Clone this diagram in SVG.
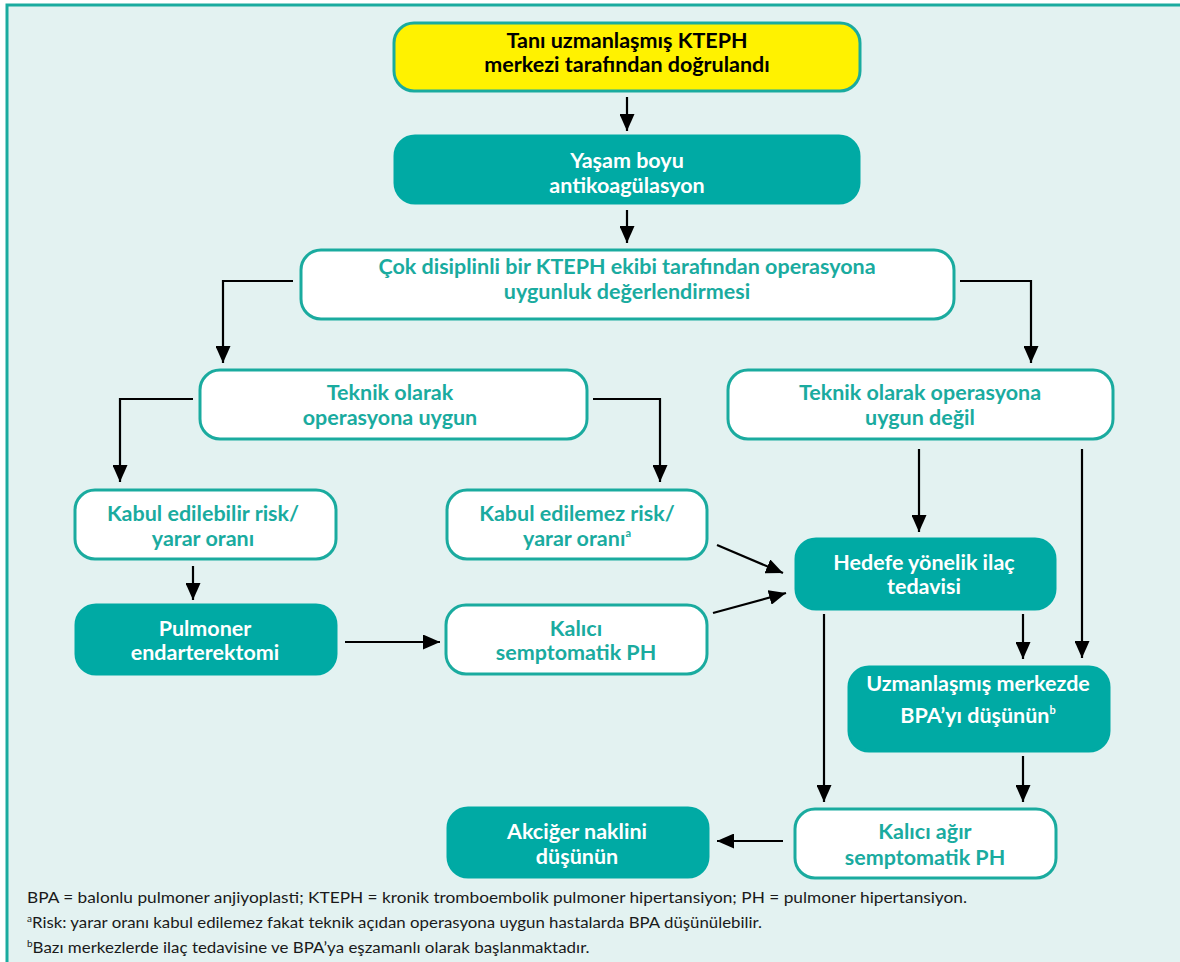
<svg xmlns="http://www.w3.org/2000/svg" width="1180" height="962" viewBox="0 0 1180 962">
<defs>
<marker id="ah" markerUnits="userSpaceOnUse" markerWidth="16" markerHeight="15" refX="17" refY="7.5" orient="auto">
<path d="M0,0 L17,7.5 L0,15 z" fill="#000"/>
</marker>
<style>
.w{fill:#fff;stroke:#1aab9f;stroke-width:3}
.t{fill:#00aaa4;stroke:#00aaa4;stroke-width:3}
.y{fill:#fff200;stroke:#1aab9f;stroke-width:3}
.lb{font-family:Lato,"Open Sans","Liberation Sans",sans-serif;font-weight:bold;font-size:21.5px;text-anchor:middle}
.tk{fill:#1aab9f}
.wt{fill:#fff}
.bk{fill:#000}
.c{fill:none;stroke:#000;stroke-width:2.2;marker-end:url(#ah)}
.fn{font-family:Lato,"Open Sans","Liberation Sans",sans-serif;font-size:16px;fill:#1a1a1a}
</style>
</defs>
<rect x="7" y="5" width="1190" height="980" fill="#e3f2f1" stroke="#1aab9f" stroke-width="3"/>
<g id="connectors">
<path class="c" d="M627,97 L627,131"/>
<path class="c" d="M627,210 L627,243"/>
<path class="c" d="M293,281 L223,281 L223,363"/>
<path class="c" d="M960,281 L1031,281 L1031,363"/>
<path class="c" d="M193,399 L120,399 L120,482"/>
<path class="c" d="M593,399 L660,399 L660,482"/>
<path class="c" d="M193,566 L193,600"/>
<path class="c" d="M345,642 L440,642"/>
<path class="c" d="M717,545 L783,573"/>
<path class="c" d="M713,613 L786,593"/>
<path class="c" d="M919,449 L919,532"/>
<path class="c" d="M1082,449 L1082,658"/>
<path class="c" d="M1023,614 L1023,659"/>
<path class="c" d="M824,614 L824,802"/>
<path class="c" d="M1023,756 L1023,802"/>
<path class="c" d="M783,841 L717,841"/>
</g>
<g id="n1"><rect class="y" x="394" y="23" width="466" height="68" rx="20"/>
<text class="lb bk" x="627" y="48">Tanı uzmanlaşmış KTEPH</text>
<text class="lb bk" x="627" y="72">merkezi tarafından doğrulandı</text></g>
<g id="n2"><rect class="t" x="395" y="136" width="464" height="67" rx="20"/>
<text class="lb wt" x="627" y="168">Yaşam boyu</text>
<text class="lb wt" x="627" y="193">antikoagülasyon</text></g>
<g id="n3"><rect class="w" x="301" y="250" width="653" height="69" rx="20"/>
<text class="lb tk" x="627" y="274">Çok disiplinli bir KTEPH ekibi tarafından operasyona</text>
<text class="lb tk" x="627" y="299">uygunluk değerlendirmesi</text></g>
<g id="n4"><rect class="w" x="200" y="370" width="387" height="69" rx="20"/>
<text class="lb tk" x="390" y="400">Teknik olarak</text>
<text class="lb tk" x="390" y="425">operasyona uygun</text></g>
<g id="n5"><rect class="w" x="728" y="370" width="385" height="69" rx="20"/>
<text class="lb tk" x="920" y="400">Teknik olarak operasyona</text>
<text class="lb tk" x="920" y="425">uygun değil</text></g>
<g id="n6"><rect class="w" x="75" y="490" width="261" height="69" rx="20"/>
<text class="lb tk" x="203" y="521">Kabul edilebilir risk/</text>
<text class="lb tk" x="203" y="546">yarar oranı</text></g>
<g id="n7"><rect class="w" x="447" y="490" width="260" height="69" rx="20"/>
<text class="lb tk" x="577" y="521">Kabul edilemez risk/</text>
<text class="lb tk" x="577" y="546">yarar oranı<tspan font-size="11" dy="-9">a</tspan></text></g>
<g id="n8"><rect class="t" x="76" y="605" width="260" height="69" rx="20"/>
<text class="lb wt" x="205" y="636">Pulmoner</text>
<text class="lb wt" x="205" y="660">endarterektomi</text></g>
<g id="n9"><rect class="w" x="446" y="605" width="261" height="69" rx="20"/>
<text class="lb tk" x="576" y="636">Kalıcı</text>
<text class="lb tk" x="576" y="660">semptomatik PH</text></g>
<g id="n10"><rect class="t" x="796" y="539" width="259" height="70" rx="20"/>
<text class="lb wt" x="924" y="570">Hedefe yönelik ilaç</text>
<text class="lb wt" x="924" y="594">tedavisi</text></g>
<g id="n11"><rect class="t" x="849" y="667" width="260" height="84" rx="20"/>
<text class="lb wt" x="978" y="691">Uzmanlaşmış merkezde</text>
<text class="lb wt" x="978" y="723">BPA’yı düşünün<tspan font-size="11" dy="-9">b</tspan></text></g>
<g id="n12"><rect class="w" x="795" y="809" width="261" height="69" rx="20"/>
<text class="lb tk" x="925" y="839">Kalıcı ağır</text>
<text class="lb tk" x="925" y="865">semptomatik PH</text></g>
<g id="n13"><rect class="t" x="448" y="808" width="260" height="69" rx="20"/>
<text class="lb wt" x="577" y="839">Akciğer naklini</text>
<text class="lb wt" x="577" y="864">düşünün</text></g>
<g id="footnotes">
<text class="fn" x="27" y="903" textLength="940" lengthAdjust="spacingAndGlyphs">BPA = balonlu pulmoner anjiyoplasti; KTEPH = kronik tromboembolik pulmoner hipertansiyon; PH = pulmoner hipertansiyon.</text>
<text class="fn" x="27" y="928"><tspan font-size="10" dy="-6">a</tspan><tspan dy="6" textLength="730" lengthAdjust="spacingAndGlyphs">Risk: yarar oranı kabul edilemez fakat teknik açıdan operasyona uygun hastalarda BPA düşünülebilir.</tspan></text>
<text class="fn" x="27" y="953"><tspan font-size="10" dy="-6">b</tspan><tspan dy="6" textLength="557" lengthAdjust="spacingAndGlyphs">Bazı merkezlerde ilaç tedavisine ve BPA’ya eşzamanlı olarak başlanmaktadır.</tspan></text>
</g>
</svg>
